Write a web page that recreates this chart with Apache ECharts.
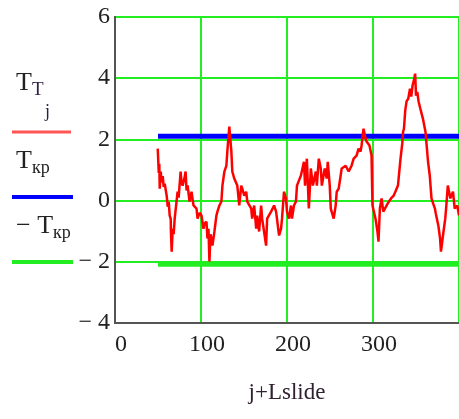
<!DOCTYPE html>
<html>
<head>
<meta charset="utf-8">
<script src="https://cdn.jsdelivr.net/npm/echarts@6/dist/echarts.min.js"></script>
<style>
  html, body { margin: 0; padding: 0; background: #fff; }
  #chart { width: 459px; height: 419px; }
</style>
</head>
<body>
<div id="chart"></div>
<script>
// T_T(j) по j+Lslide
var jx = [49.7, 50.9, 51.5, 52.0, 53.2, 54.3, 55.5, 56.6, 57.8, 60.1, 61.3, 62.5, 63.6, 64.8, 65.0, 65.9, 67.1, 68.2, 69.4, 72.8,
    74.0, 76.3, 77.4, 78.6, 80.9, 82.1, 83.2, 84.4, 86.7, 89.0, 90.2, 91.3, 94.8, 96.0, 98.3, 100.6, 102.9, 104.0, 106.4, 107.5,
    108.7, 109.8, 111.0, 112.1, 113.3, 115.6, 117.9, 119.1, 121.4, 123.7, 124.9, 127.2, 129.5, 130.6, 132.9, 135.3, 136.4, 138.7, 141.0, 142.2,
    144.5, 146.8, 148.0, 150.3, 152.6, 153.8, 158.4, 159.5, 161.8, 164.2, 165.3, 167.6, 169.9, 171.1, 175.7, 176.9, 181.5, 185.0, 187.3, 190.8,
    193.1, 194.2, 196.5, 198.8, 200.0, 202.3, 204.6, 205.8, 208.1, 210.4, 211.6, 216.2, 219.7, 221.0, 223.1, 225.4, 227.7, 230.1, 233.5, 234.7,
    237.0, 239.3, 240.5, 243.9, 246.2, 247.4, 249.7, 250.9, 254.3, 256.6, 257.8, 260.1, 262.4, 263.6, 268.2, 271.7, 275.1, 277.5, 280.9, 283.2,
    285.5, 286.7, 289.0, 291.3, 292.5, 295.9, 298.3, 299.4, 302.9, 305.2, 306.4, 308, 310, 312, 314, 317, 318, 321, 324, 326,
    329, 332, 334, 335, 336, 337.5, 339, 341, 343, 344.5, 346, 348, 349, 350, 351.5, 353, 355, 358, 361, 362,
    364, 366, 368, 370, 372, 373, 376, 378, 379, 382, 384, 385, 387, 390, 391, 393, 395, 398, 400];
var tj = [1.70, 0.90, 1.20, 0.39, 0.95, 0.60, 0.80, 0.45, 0.55, 0.16, -0.20, -0.05, -0.49, -0.60, -1.00, -1.67, -0.92, -1.10, -0.59, 0.29,
    0.10, 0.95, 0.60, 0.49, 0.75, 0.95, 0.33, 0.50, -0.03, 0.29, 0.05, -0.16, -0.26, -0.59, -0.40, -0.49, -0.92, -0.75, -0.69, -1.24,
    -0.92, -1.99, -1.10, -1.24, -1.47, -1.01, -0.49, -0.36, -0.16, -0.03, 0.49, 0.95, 1.14, 1.60, 2.42, 1.60, 0.95, 0.72, 0.78, 0.49,
    -0.16, 0.49, 0.39, 0.16, 0.29, -0.03, -0.26, -0.59, -0.16, -0.92, -0.49, -1.01, -0.16, -0.59, -1.47, -0.59, -0.36, -0.16, -0.36, -1.14,
    -0.92, -0.59, 0.29, 0.07, -0.36, -0.59, -0.16, -0.59, -0.16, -0.03, 0.49, 0.82, 1.27, 0.49, 1.37, -0.26, 1.05, 0.49, 0.95, 0.49,
    1.37, 1.05, 0.49, 1.05, 0.72, 1.27, 0.49, -0.26, -0.59, -0.16, 0.29, 0.39, 0.82, 1.05, 1.14, 0.95, 1.14, 1.37, 1.47, 1.70,
    1.60, 1.80, 2.35, 2.03, 1.93, 1.80, 1.47, -0.16, -0.59, -1.01, -1.34, -0.26, 0.07, -0.36, -0.36, -0.10, -0.16, 0.07, 0.16, 0.29,
    0.49, 1.37, 1.86, 2.25, 2.35, 2.95, 3.24, 3.33, 3.66, 3.40, 3.76, 3.99, 4.15, 3.43, 3.55, 3.24, 3.01, 2.68, 2.25, 1.93,
    1.27, 0.82, 0.07, -0.10, -0.26, -0.42, -0.82, -1.24, -1.67, -1.01, -0.59, -0.26, 0.49, 0.07, 0.16, 0.29, -0.26, -0.16, -0.49];
// Tкр и -Tкр
var tkrX = [50, 400];
var tkr = 2.1;
var yTicks = [-4, -2, 0, 2, 4, 6];
var xTicks = [0, 100, 200, 300, 400];

var myChart = echarts.init(document.getElementById('chart'));

var serif = '"Liberation Serif", "DejaVu Serif", serif';

var option = {
    animation: false,
    backgroundColor: '#fff',
    grid: {
        left: 115, top: 17, right: -2, bottom: 96,
        show: true, borderColor: '#555', borderWidth: 2, backgroundColor: '#fff'
    },
    xAxis: {
        type: 'value',
        min: xTicks[0], max: xTicks[xTicks.length - 1], interval: 100,
        name: 'j+Lslide', nameLocation: 'middle', nameGap: 58,
        nameTextStyle: { fontFamily: serif, fontSize: 23, color: '#302030' },
        axisLine: { onZero: false, lineStyle: { color: '#555', width: 2 } },
        axisTick: { show: false },
        axisLabel: {
            showMaxLabel: false, margin: 10, padding: [0, 0, 0, 12],
            fontFamily: serif, fontSize: 24, color: '#222'
        },
        splitLine: { lineStyle: { color: '#22ee22', width: 2 } }
    },
    yAxis: {
        type: 'value',
        min: yTicks[0], max: yTicks[yTicks.length - 1], interval: 2,
        axisLine: { onZero: false, lineStyle: { color: '#555', width: 2 } },
        axisTick: { show: false },
        axisLabel: {
            margin: 5, padding: [10, 0, 0, 0],
            fontFamily: serif, fontSize: 24, color: '#222',
            formatter: function (v) { return v < 0 ? '\u2212 ' + (-v) : String(v); }
        },
        splitLine: { lineStyle: { color: '#22ee22', width: 2 } }
    },
    graphic: [
        // легенда слева
        { type: 'text', left: 16, top: 70, style: {
            text: '{a|T}{b|T}', rich: {
                a: { fontFamily: serif, fontSize: 26, fill: '#222' },
                b: { fontFamily: serif, fontSize: 19, fill: '#302040', padding: [14, 0, 0, 0] }
            } } },
        { type: 'text', left: 45, top: 103, style: { text: 'j', font: '18px ' + serif, fill: '#302040' } },
        { type: 'line', shape: { x1: 12, y1: 132, x2: 71, y2: 132 }, style: { stroke: '#ff5555', lineWidth: 3 } },
        { type: 'text', left: 16, top: 148, style: {
            text: '{a|T}{b|кр}', rich: {
                a: { fontFamily: serif, fontSize: 26, fill: '#222' },
                b: { fontFamily: serif, fontSize: 18, fill: '#222', padding: [14, 0, 0, 0] }
            } } },
        { type: 'line', shape: { x1: 12, y1: 197, x2: 73, y2: 197 }, style: { stroke: '#0000ff', lineWidth: 4 } },
        { type: 'text', left: 16, top: 213, style: {
            text: '{m|\u2212 }{a|T}{b|кр}', rich: {
                m: { fontFamily: serif, fontSize: 26, fill: '#222' },
                a: { fontFamily: serif, fontSize: 26, fill: '#222' },
                b: { fontFamily: serif, fontSize: 18, fill: '#222', padding: [14, 0, 0, 0] }
            } } },
        { type: 'line', shape: { x1: 12, y1: 262, x2: 73, y2: 262 }, style: { stroke: '#22ee22', lineWidth: 4 } }
    ],
    series: [{
        name: 'Tкр', type: 'line', symbol: 'none', z: 3,
        lineStyle: { color: '#0000ff', width: 5 },
        data: tkrX.map(function (x) { return [x, tkr]; })
    }, {
        name: '-Tкр', type: 'line', symbol: 'none', z: 3,
        lineStyle: { color: '#22ee22', width: 4 },
        data: tkrX.map(function (x) { return [x, -tkr]; })
    }, {
        name: 'T_T', type: 'line', symbol: 'none', z: 4,
        lineStyle: { color: '#ff0000', width: 2.5 },
        data: jx.map(function (x, i) { return [x, tj[i]]; })
    }]
};

myChart.setOption(option);
</script>
</body>
</html>
